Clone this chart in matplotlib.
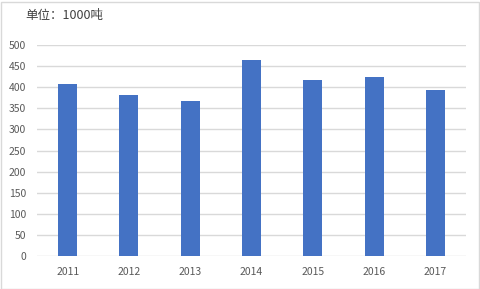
import matplotlib.pyplot as plt
from matplotlib.patches import Rectangle

plt.rcParams['font.family'] = ['Noto Sans CJK SC', 'DejaVu Sans']

years = ['2011', '2012', '2013', '2014', '2015', '2016', '2017']
values = [408, 382, 367, 465, 417, 424, 393]
y_ticks = [0, 50, 100, 150, 200, 250, 300, 350, 400, 450, 500]

W, H = 481, 289
fig = plt.figure(figsize=(W / 100, H / 100), dpi=100)
ax = fig.add_axes([37 / W, 1 - 256 / H, (466 - 37) / W, (256 - 45) / H])

ax.bar(range(len(years)), values, width=0.31, color='#4472C4', zorder=3)
ax.set_xlim(-0.5, len(years) - 0.5)
ax.set_ylim(0, 500)
ax.set_yticks(y_ticks)
ax.set_xticks(range(len(years)))
ax.set_xticklabels(years)
ax.grid(axis='y', color='#D9D9D9', linewidth=1, zorder=0)
for s in ax.spines.values():
    s.set_visible(False)
ax.tick_params(length=0, labelsize=7.5, colors='#595959', pad=8)
ax.tick_params(axis='x', pad=8)

fig.text(25 / W, 1 - 15 / H, '单位：1000吨', fontsize=9, color='#404040',
         va='center', ha='left')

fig.patches.append(Rectangle((0.5 / W, 0.5 / H), (W - 2) / W, (H - 2) / H,
                             transform=fig.transFigure, fill=False,
                             edgecolor='#D9D9D9', linewidth=1))

fig.savefig('out.png', dpi=100)
